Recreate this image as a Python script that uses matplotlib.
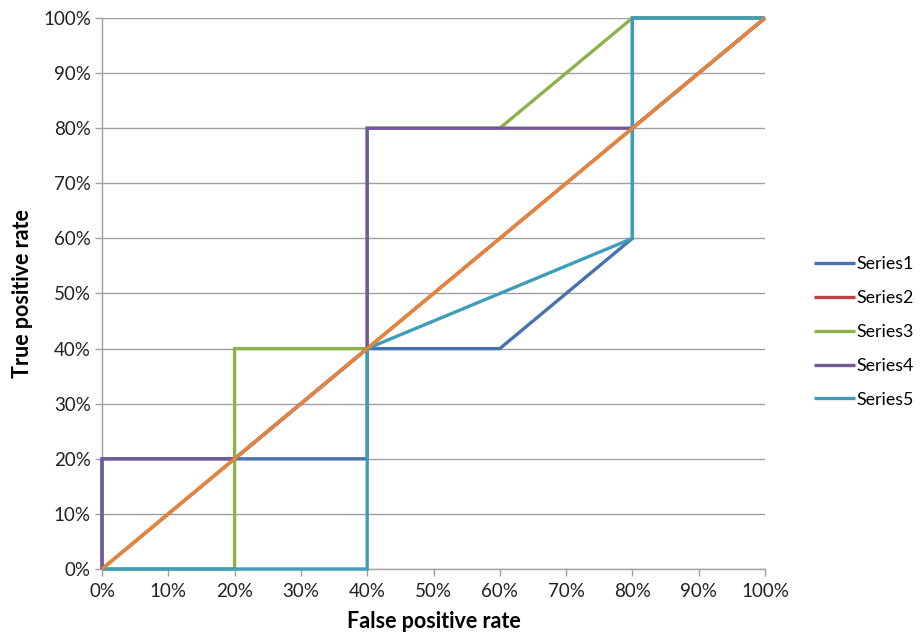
import matplotlib
matplotlib.use("Agg")
import matplotlib.pyplot as plt
from matplotlib.ticker import MultipleLocator, PercentFormatter

plt.rcParams['font.family'] = ['Lato', 'DejaVu Sans']

# ROC curves: false positive rate (x) vs true positive rate (y)
series1_x = [0.0, 0.0, 0.4, 0.4, 0.6, 0.8, 0.8, 1.0]
series1_y = [0.0, 0.2, 0.2, 0.4, 0.4, 0.6, 1.0, 1.0]

series2_x = [0.0, 1.0]
series2_y = [0.0, 1.0]

series3_x = [0.0, 0.2, 0.2, 0.4, 0.4, 0.6, 0.8, 1.0]
series3_y = [0.0, 0.0, 0.4, 0.4, 0.8, 0.8, 1.0, 1.0]

series4_x = [0.0, 0.0, 0.2, 0.4, 0.4, 0.8, 1.0]
series4_y = [0.0, 0.2, 0.2, 0.4, 0.8, 0.8, 1.0]

series5_x = [0.0, 0.4, 0.4, 0.8, 0.8, 1.0]
series5_y = [0.0, 0.0, 0.4, 0.6, 1.0, 1.0]

# chance line
diag_x = [0.0, 1.0]
diag_y = [0.0, 1.0]

labels = ["Series1", "Series2", "Series3", "Series4", "Series5"]
colors = ["#4672AE", "#B8423F", "#8DB24C", "#74599A", "#3F9DBA"]
diag_color = "#E5853A"

fig = plt.figure(figsize=(9.24, 6.44), dpi=100)
ax = fig.add_axes([102/924, 75/644, 663/924, 551/644])

lw = 2.4
handles = []
for xs, ys, c, lab in zip([series1_x, series2_x, series3_x, series4_x, series5_x],
                          [series1_y, series2_y, series3_y, series4_y, series5_y],
                          colors, labels):
    h, = ax.plot(xs, ys, color=c, lw=lw, label=lab, solid_joinstyle='miter',
                 solid_capstyle='butt', clip_on=False, zorder=3)
    handles.append(h)
ax.plot(diag_x, diag_y, color=diag_color, lw=lw, solid_capstyle='butt',
        clip_on=False, zorder=4)

ax.set_xlim(0, 1)
ax.set_ylim(0, 1)
ax.xaxis.set_major_locator(MultipleLocator(0.1))
ax.yaxis.set_major_locator(MultipleLocator(0.1))
ax.xaxis.set_major_formatter(PercentFormatter(1.0, decimals=0))
ax.yaxis.set_major_formatter(PercentFormatter(1.0, decimals=0))

ax.grid(axis='y', color='#A0A0A0', lw=1.0, zorder=0)
ax.set_axisbelow(True)
for s in ['top', 'right']:
    ax.spines[s].set_visible(False)
for s in ['left', 'bottom']:
    ax.spines[s].set_color('#A0A0A0')
    ax.spines[s].set_linewidth(1.0)
ax.tick_params(axis='both', colors='#A0A0A0', length=5, width=1.0,
               labelcolor='#222222', labelsize=13.5)
ax.tick_params(axis='x', pad=5)
ax.tick_params(axis='y', pad=3)

ax.set_xlabel("False positive rate", fontsize=15.5, fontweight='bold', labelpad=8)
ax.set_ylabel("True positive rate", fontsize=15.5, fontweight='bold', labelpad=7)

fig.legend(handles=handles, labels=labels, loc='center left',
           bbox_to_anchor=(814/924, 1 - 332/644), frameon=False,
           fontsize=12.8, handlelength=2.3, handletextpad=0.1,
           labelspacing=1.0, borderaxespad=0, borderpad=0)

fig.savefig("out.png", dpi=100)
